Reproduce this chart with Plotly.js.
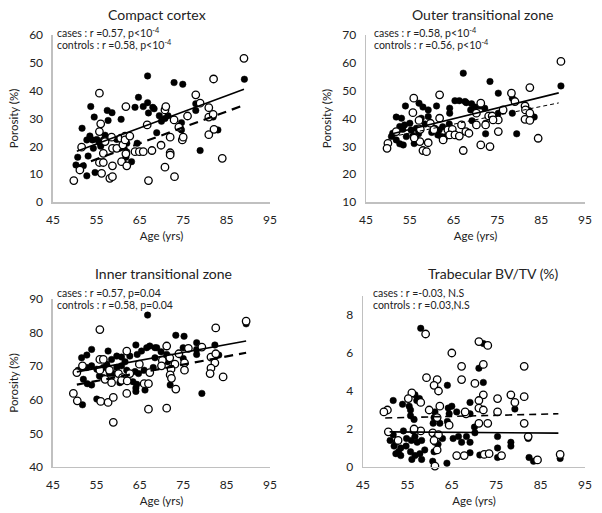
<!DOCTYPE html>
<html>
<head>
<meta charset="utf-8">
<script src="https://cdn.plot.ly/plotly-3.0.1.min.js"></script>
<style>
  body { margin: 0; background: #fff; }
  #chart { width: 602px; height: 513px; }
</style>
</head>
<body>
<div id="chart"></div>
<script>
// Compact cortex
var cortexCaseAge = [50.3,50.7,51.7,52,52.8,52.8,53.1,53.5,53.7,54.1,54.3,54.5,54.7,55.1,55.7,56,56.6,57,57.5,57.7,58.6,59.7,60.7,61.2,61.8,62,62,63.1,63.9,64.4,64.7,65.8,66.8,66.8,67,68,68.3,68.9,69.5,70,70.8,71.5,72.9,74.6,74.6,74.9,77.9,77.9,78.9,81.9,83,89.1];
var cortexCaseVal = [13.3,16.1,26.5,13,9.4,22.3,16.5,23.7,34.3,22.3,19.3,30.5,10.6,22.5,21.3,20,22.3,24,32.9,29.3,32.1,22.5,29.7,14.2,16.1,21.1,18,14.5,34,21.1,37.6,34.3,35.7,45.3,32,34,33.5,24.9,31,29,30,31,42.9,28.5,25.9,42.3,35.3,32.9,18.5,30.5,25.9,44.1];
var cortexCtrlAge = [49.8,51.2,51.6,55.7,55.7,55.7,56,56.2,56.6,56.6,57,58.1,58.5,58.7,58.7,58.7,59.7,60.6,60.8,61.1,61.6,61.6,61.8,61.8,62,62.7,63.9,64.9,65.8,66.7,67,67.8,69.9,70.8,71,70.8,72,72,72,72.9,73,74,74.8,75,76,77.9,78.9,80.9,80.9,80.9,81.9,82,82.1,84,89];
var cortexCtrlVal = [7.7,11.5,19.7,39.1,25.3,14.2,28.1,10.3,17.5,14.2,21.7,8.5,23.3,19.3,13,9.1,19.3,22.9,14.5,20.5,23.7,22.3,34.3,17.3,13,23.7,18.1,18.1,18.1,27.7,7.7,18.5,20.4,33.1,34.3,12.5,23.3,17.7,16.9,29.5,9.1,26.9,22.3,23.3,30.9,38.5,35.5,33.9,30.5,24.2,31.5,44.2,26.1,15.7,51.6];
var cortexFitAge = [50.5, 89];
var cortexFitCase = [18.2, 40.5];
var cortexFitCtrl = [12.8, 34.8];

// Outer transitional zone
var outerCaseAge = [67.2,54,57.1,58,59.2,61.1,64.1,65.3,66.3,67.6,64.1,51.9,53.1,57.6,59.2,52.7,53.8,55,53.4,51.1,55.3,56.5,60.7,61.7,50.8,51.9,52.7,54.2,55.7,56.6,61.4,62.2,63.2,57,58.5,60,62.5,64,56,53.5,89.5,73.3,75.2,78.4,82.2,83.4,78.4,75.2,72.1,71,69.8,69.1,67.9,68.9,69.2,72.3,72.3,79.4];
var outerCaseVal = [56.3,44.5,45.5,44.1,43.1,44.5,43.7,46.4,46.4,46.1,41.9,40.5,40.1,40.1,40.7,37.1,37.7,38.3,36.1,34.7,35.9,36.5,36.5,35.9,33.5,32.3,30.9,33.5,33.7,32.3,34.1,33.5,33.5,34.5,38,35,37,38,31,30.5,51.7,53.3,49.1,47.3,42.9,40.5,41.9,41.9,43.7,44.5,44.1,45.3,45.7,43.1,39.2,38.3,34.5,34.5];
var outerCtrlAge = [55.9,61.8,55.7,57.1,59.7,61.8,51.9,57.4,63.7,64.7,66.8,50,57.3,59.2,58,58.8,62.6,64.1,65.3,66.3,49.8,67.2,67.8,56,60.5,89.5,82.4,78.2,79,81.3,81.4,82.4,81.3,82.4,75.2,75.2,76.3,73,73.8,71.2,70.2,70.2,72.3,68.5,71.2,73.3,84.3,74];
var outerCtrlVal = [47.3,48.5,42.1,39.3,38.3,40.1,35.3,36.1,35.9,36.1,37.7,31.1,31.7,31.3,28.5,28.1,32.3,34.1,34.1,33.7,29.3,28.5,35.3,33,36,60.5,51.1,49.1,46.1,44.5,43.1,41.9,39.7,39.3,39.5,35.3,43.1,40.9,40.9,45.5,41.9,37.7,37.7,34.7,30.5,29.9,32.9,39.5];
var outerFitAge = [51, 89];
var outerFitCase = [34.5, 49.2];
var outerFitCtrl = [33.5, 45.6];

// Inner transitional zone
var innerCaseAge = [66.8,53.9,57.7,64.1,65.4,66.6,67.3,68.5,51.6,52.8,58.5,57.4,59.7,60.8,62.7,64.4,61.6,60.8,50.8,52.8,53.9,55.1,56.6,58,59.7,62,63.9,64.7,66,68.1,52,52.9,53.9,55.7,56.6,58.9,60.4,63.4,64.3,66.2,64.1,64.1,51.8,55.1,89.5,73.3,75.2,78.1,82.3,68.9,75,69.9,78.1,78.1,83.2,71.2,68.5,71.4,75,72,79.3];
var innerCaseVal = [85.2,75,74.5,76.3,74.5,75.5,76,75.5,72.5,73.3,72,70.6,73,72.7,73,73.5,71.3,70.1,68.8,69.6,70.1,69.1,69.6,67.8,69.6,68.8,68.4,67.8,68.8,69.6,66.1,64.8,64.4,67.1,66.6,67.8,65.1,65.4,64.6,62.9,63.5,62.5,58.5,60.2,82.6,79.2,78.9,77,76.3,75.5,75.5,74.3,75,73.5,73.3,73.5,72.5,71.3,72.3,64.4,61.9];
var innerCtrlAge = [55.8,62,55.8,56.6,51.8,55.8,58,50.5,60.1,62.7,61,64.9,67.3,57,58.5,60.8,62.1,66,67,62,49.7,50.6,56,57.7,58.9,58.9,67,89.5,82.5,79.3,76.2,71.2,81.4,82.5,74,71.9,70.2,75.3,73.1,82.3,81.4,81.2,84.2,75.3,72.2,72,72.3,70,73.3,71.2];
var innerCtrlVal = [80.9,74.5,72,72,70.1,68.8,68.8,68.1,67.8,67.8,66.6,70.6,68.1,66.1,65.1,65.8,65.6,64.8,64.8,61.9,61.9,59.7,59.5,59.2,60.7,53.3,57.2,83.4,81.4,75.7,75.3,76,72.7,73.7,73.7,72.5,71.7,71,70.6,71,69.4,67.8,66.8,68.8,69.1,67.4,66.4,70.1,63.2,57.5];
var innerFitAge = [50.5, 89.5];
var innerFitCase = [68.3, 77.5];
var innerFitCtrl = [64.5, 74];

// Trabecular BV/TV
var trabCaseAge = [58,64,56.7,57.7,57.1,53.9,51.8,65,64.2,66.1,55.4,55.7,61.2,61,64.4,55.7,56.5,60.8,62.3,64,54.1,56.3,51.8,56.7,51.1,54.8,55.9,57.2,58.2,62.9,61.2,65.3,66.5,67.2,52,53.5,54.7,52.4,53.5,55.7,56.7,57.8,58.9,61,61.9,56,58.2,60.7,63.9,52.5,53,72.1,71.1,72.1,69.1,79.2,69.1,70.1,70.2,82.2,75.3,68.3,69.1,78.3,78.3,75.3,69.1,71.3,75.3,82.4,83.4,89.4];
var trabCaseVal = [7.3,4.3,3.8,3.6,3.5,3.3,3.5,3.2,3.1,2.9,3.2,3,2.9,2.6,2.8,2.7,2.5,2.3,2.3,2.4,1.9,1.9,1.7,1.6,1.4,1.5,1.4,1.3,1.4,1.5,1.3,1.5,1.6,1.3,1.1,1,1.1,0.7,0.6,0.8,0.6,0.7,0.9,0.8,1.2,0.4,0.4,0.3,0.2,1.3,0.8,6.5,5.2,4.45,3.4,3.05,2.8,2.1,1.8,1.5,1.6,1.6,1.3,1.3,1.1,1,0.75,0.63,0.5,0.5,0.3,0.45];
var trabCtrlAge = [59.1,65,67.2,67.2,59.3,61.7,61,62,56,55.2,58,62.3,59.9,50.5,49.7,61.7,68.2,64.4,50.7,58,60.7,61.4,52.9,61.7,61.2,66.1,67.8,56.5,62,61,71.1,73.1,72.1,81.3,70.2,72.1,71.1,78.3,81.3,75.3,79.2,71.1,72.1,68,75.3,73.1,71.1,81.3,82.2,72.3,73.4,76.2,84.3,89.4];
var trabCtrlVal = [7,6,5.3,4.6,4.7,4.6,4.3,4,3.9,3.6,3.4,3.2,3,3,2.9,2.6,2.8,2.2,1.85,1.9,1.8,1.5,1.4,0.9,0.05,0.6,0.6,2,1.7,1.4,6.6,6.4,5.4,5.3,4.4,3.8,3.5,3.8,3.7,3.6,3.4,3.1,3,2.9,2.9,2.3,2.3,2.3,1.6,0.66,0.7,0.6,0.37,0.66];
var trabFitAge = [51, 89];
var trabFitCase = [1.85, 1.78];
var trabFitCtrlAge = [50, 89];
var trabFitCtrl = [2.58, 2.8];

var FONT = 'Lato, "Open Sans", sans-serif';
var traces = [];

function addPanel(n, caseAge, caseVal, ctrlAge, ctrlVal, fitAgeCase, fitCase, fitAgeCtrl, fitCtrl, dashStyle, dashWidth) {
    var xa = n == 1 ? 'x' : 'x' + n;
    var ya = n == 1 ? 'y' : 'y' + n;
    traces.push({
        x: caseAge, y: caseVal, xaxis: xa, yaxis: ya,
        mode: 'markers', type: 'scatter', cliponaxis: false, hoverinfo: 'skip',
        marker: { color: '#000', size: 6.5, line: { color: '#000', width: 0.5 } }
    });
    traces.push({
        x: ctrlAge, y: ctrlVal, xaxis: xa, yaxis: ya,
        mode: 'markers', type: 'scatter', cliponaxis: false, hoverinfo: 'skip',
        marker: { color: '#fff', size: 7.5, line: { color: '#000', width: 1.3 } }
    });
    traces.push({
        x: fitAgeCase, y: fitCase, xaxis: xa, yaxis: ya,
        mode: 'lines', type: 'scatter', hoverinfo: 'skip',
        line: { color: '#000', width: 1.6 }
    });
    traces.push({
        x: fitAgeCtrl, y: fitCtrl, xaxis: xa, yaxis: ya,
        mode: 'lines', type: 'scatter', hoverinfo: 'skip',
        line: { color: '#000', width: dashWidth, dash: dashStyle }
    });
}

addPanel(1, cortexCaseAge, cortexCaseVal, cortexCtrlAge, cortexCtrlVal, cortexFitAge, cortexFitCase, cortexFitAge, cortexFitCtrl, '9px,6px', 2.2);
addPanel(2, outerCaseAge, outerCaseVal, outerCtrlAge, outerCtrlVal, outerFitAge, outerFitCase, outerFitAge, outerFitCtrl, '4px,3px', 1);
addPanel(3, innerCaseAge, innerCaseVal, innerCtrlAge, innerCtrlVal, innerFitAge, innerFitCase, innerFitAge, innerFitCtrl, '9px,6px', 2.2);
addPanel(4, trabCaseAge, trabCaseVal, trabCtrlAge, trabCtrlVal, trabFitAge, trabFitCase, trabFitCtrlAge, trabFitCtrl, '7px,5px', 1.6);

function xAxis(domain, anchor) {
    return {
        domain: domain, anchor: anchor, range: [45, 95], tick0: 45, dtick: 10,
        showgrid: false, zeroline: false, showline: true, linecolor: '#c0c0c0', linewidth: 1.5,
        ticks: 'outside', ticklen: 6, tickcolor: 'rgba(0,0,0,0)',
        tickfont: { family: FONT, size: 12, color: '#222' },
        title: { text: 'Age (yrs)', font: { family: FONT, size: 11.5, color: '#222' }, standoff: 6 },
        fixedrange: true
    };
}
function yAxis(domain, anchor, range, dtick, titleText) {
    return {
        domain: domain, anchor: anchor, range: range, tick0: 0, dtick: dtick,
        showgrid: false, zeroline: false, showline: true, linecolor: '#c0c0c0', linewidth: 1.5,
        ticks: 'outside', ticklen: 6, tickcolor: 'rgba(0,0,0,0)',
        tickfont: { family: FONT, size: 12, color: '#222' },
        title: { text: titleText, font: { family: FONT, size: 11.5, color: '#222' }, standoff: 8 },
        fixedrange: true
    };
}

var topY = [0.6062, 0.9318];
var botY = [0.0897, 0.4172];
var leftX = [0.088, 0.4485];
var rightX = [0.608, 0.9718];

function titleNote(text, x, y) {
    return { text: text, x: x, y: y, xref: 'paper', yref: 'paper', xanchor: 'center', yanchor: 'middle',
             showarrow: false, font: { family: FONT, size: 14, color: '#222' } };
}
function statNote(text, x, y) {
    return { text: text, x: x, y: y, xref: 'paper', yref: 'paper', xanchor: 'left', yanchor: 'middle',
             showarrow: false, font: { family: FONT, size: 10.5, color: '#222' } };
}

var layout = {
    width: 602, height: 513,
    margin: { l: 0, r: 0, t: 0, b: 0 },
    paper_bgcolor: '#fff', plot_bgcolor: '#fff',
    showlegend: false,
    font: { family: FONT, color: '#222' },
    xaxis: xAxis(leftX, 'y'),
    yaxis: yAxis(topY, 'x', [0, 60], 10, 'Porosity (%)'),
    xaxis2: xAxis(rightX, 'y2'),
    yaxis2: yAxis(topY, 'x2', [10, 70], 10, 'Porosity (%)'),
    xaxis3: xAxis(leftX, 'y3'),
    yaxis3: yAxis(botY, 'x3', [40, 90], 10, 'Porosity (%)'),
    xaxis4: xAxis([0.603, 0.9718], 'y4'),
    yaxis4: yAxis([0.0897, 0.423], 'x4', [0, 9], 2, ''),
    annotations: [
        titleNote('Compact cortex', 0.261, 0.971),
        titleNote('Outer transitional zone', 0.802, 0.971),
        titleNote('Inner transitional zone', 0.271, 0.466),
        titleNote('Trabecular BV/TV (%)', 0.819, 0.466),
        statNote('cases : r =0.57, p&lt;10<sup>-4</sup>', 0.0914, 0.9357),
        statNote('controls : r =0.58, p&lt;10<sup>-4</sup>', 0.0914, 0.9123),
        statNote('cases : r =0.58, p&lt;10<sup>-4</sup>', 0.618, 0.9357),
        statNote('controls : r =0.56, p&lt;10<sup>-4</sup>', 0.618, 0.9123),
        statNote('cases : r =0.57, p=0.04', 0.0914, 0.4288),
        statNote('controls : r =0.58, p=0.04', 0.0914, 0.4055),
        statNote('cases : r =-0.03, N.S', 0.616, 0.4288),
        statNote('controls : r =0.03,N.S', 0.616, 0.4055)
    ]
};

Plotly.newPlot('chart', traces, layout, { staticPlot: true });
</script>
</body>
</html>
